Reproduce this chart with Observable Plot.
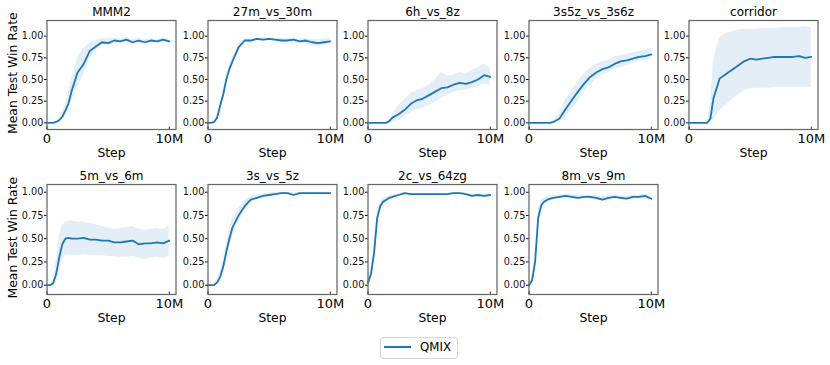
<!DOCTYPE html>
<html><head><meta charset="utf-8">
<script src="https://cdn.jsdelivr.net/npm/d3@7"></script>
<script src="https://cdn.jsdelivr.net/npm/@observablehq/plot@0.6"></script>
<style>
body{margin:0;background:#fff;font-family:"DejaVu Sans",sans-serif;}
#chart{position:relative;width:830px;height:365px;overflow:hidden;background:#fff;}
.panel{position:absolute;}
.legbox{position:absolute;left:380px;top:336.5px;width:78px;height:22.5px;border:1px solid #d6d6d6;border-radius:3px;box-sizing:border-box;background:#fff;}
.legline{position:absolute;left:384px;top:346.3px;width:27px;height:2px;background:#1f77b4;}
.legtext{position:absolute;left:420px;top:341.8px;font-size:11.8px;line-height:1;color:#000;font-family:"DejaVu Sans",sans-serif;}
</style></head><body><div id="chart"></div>
<script>
// ---- data ----
const steps = [0,0.25,0.5,0.75,1,1.25,1.5,1.75,2,2.5,3,3.5,4,4.5,5,5.5,6,6.5,7,7.5,8,8.5,9,9.5,10]; // millions
const panelNames = ["MMM2","27m_vs_30m","6h_vs_8z","3s5z_vs_3s6z","corridor","5m_vs_6m","3s_vs_5z","2c_vs_64zg","8m_vs_9m"];
const xTicks = [0, 10];
const xTickLabels = ["0", "10M"];
const yTicks = [0, 0.25, 0.5, 0.75, 1.0];
const seriesName = "QMIX";

const mmm2Mean = [0,0,0,0.01,0.03,0.07,0.14,0.22,0.36,0.58,0.68,0.83,0.88,0.93,0.92,0.95,0.94,0.96,0.93,0.95,0.93,0.95,0.94,0.96,0.94];
const mmm2Lo   = [0,0,0,0,0.01,0.03,0.08,0.14,0.25,0.42,0.55,0.74,0.83,0.9,0.89,0.92,0.92,0.93,0.91,0.92,0.91,0.93,0.92,0.93,0.92];
const mmm2Hi   = [0,0,0.01,0.02,0.06,0.12,0.22,0.33,0.5,0.75,0.86,0.92,0.95,0.97,0.97,0.98,0.97,0.99,0.96,0.98,0.96,0.97,0.96,0.98,0.96];

const m27Mean = [0,0,0.01,0.06,0.2,0.33,0.5,0.62,0.71,0.87,0.95,0.95,0.97,0.96,0.97,0.96,0.95,0.95,0.96,0.94,0.95,0.93,0.92,0.93,0.94];
const m27Lo   = [0,0,0,0.03,0.15,0.28,0.44,0.57,0.66,0.83,0.93,0.93,0.95,0.94,0.95,0.94,0.93,0.93,0.94,0.91,0.92,0.89,0.88,0.9,0.91];
const m27Hi   = [0,0.01,0.02,0.09,0.25,0.38,0.55,0.67,0.76,0.91,0.97,0.97,0.98,0.98,0.98,0.98,0.97,0.97,0.98,0.96,0.98,0.96,0.96,0.97,0.97];

const h6Mean = [0,0,0,0,0,0,0,0.02,0.06,0.1,0.15,0.22,0.26,0.28,0.32,0.36,0.4,0.41,0.44,0.46,0.45,0.47,0.5,0.55,0.53];
const h6Lo   = [0,0,0,0,0,0,0,0,0.01,0.03,0.07,0.12,0.15,0.17,0.2,0.24,0.28,0.32,0.35,0.37,0.37,0.4,0.42,0.45,0.43];
const h6Hi   = [0,0,0,0,0,0,0.01,0.04,0.1,0.2,0.27,0.34,0.37,0.4,0.44,0.5,0.58,0.54,0.55,0.58,0.56,0.6,0.64,0.68,0.63];

const s5zMean = [0,0,0,0,0,0,0,0,0.01,0.05,0.16,0.26,0.36,0.45,0.53,0.58,0.62,0.64,0.68,0.71,0.72,0.74,0.76,0.77,0.79];
const s5zLo   = [0,0,0,0,0,0,0,0,0,0.01,0.07,0.15,0.25,0.35,0.43,0.5,0.55,0.58,0.62,0.64,0.66,0.69,0.71,0.72,0.73];
const s5zHi   = [0,0,0,0,0,0,0,0,0.02,0.12,0.27,0.38,0.48,0.56,0.63,0.68,0.71,0.72,0.76,0.78,0.79,0.81,0.82,0.84,0.86];

const corMean = [0,0,0,0,0,0,0,0.05,0.28,0.51,0.56,0.61,0.66,0.71,0.74,0.73,0.74,0.75,0.76,0.76,0.76,0.76,0.77,0.75,0.76];
const corLo   = [0,0,0,0,0,0,0,0,0.03,0.14,0.2,0.26,0.32,0.37,0.39,0.4,0.4,0.4,0.41,0.41,0.41,0.41,0.41,0.41,0.41];
const corHi   = [0,0,0,0,0,0,0,0.2,0.72,0.98,1.03,1.05,1.07,1.08,1.08,1.08,1.09,1.09,1.09,1.1,1.1,1.1,1.1,1.11,1.1];

const m5Mean = [0,0,0.02,0.12,0.3,0.44,0.5,0.51,0.5,0.5,0.51,0.49,0.49,0.48,0.48,0.46,0.46,0.47,0.48,0.44,0.45,0.45,0.46,0.45,0.48];
const m5Lo   = [0,0,0,0.02,0.12,0.26,0.32,0.33,0.32,0.32,0.33,0.32,0.32,0.32,0.31,0.31,0.3,0.3,0.31,0.29,0.28,0.29,0.3,0.29,0.31];
const m5Hi   = [0,0,0.04,0.25,0.52,0.64,0.68,0.69,0.69,0.68,0.68,0.66,0.65,0.63,0.62,0.6,0.61,0.62,0.63,0.6,0.59,0.6,0.61,0.6,0.64];

const s3Mean = [0,0,0,0.03,0.09,0.2,0.36,0.5,0.62,0.75,0.85,0.92,0.94,0.96,0.97,0.98,0.99,0.99,0.97,0.99,0.99,0.99,0.99,0.99,0.99];
const s3Lo   = [0,0,0,0.01,0.05,0.14,0.28,0.41,0.53,0.68,0.8,0.89,0.92,0.95,0.96,0.97,0.98,0.98,0.96,0.98,0.98,0.98,0.98,0.98,0.98];
const s3Hi   = [0,0,0.01,0.06,0.15,0.28,0.45,0.6,0.72,0.83,0.91,0.96,0.97,0.98,0.99,1.0,1.0,1.0,0.99,1.0,1.0,1.0,1.0,1.0,1.0];

const c2Mean = [0.03,0.12,0.35,0.72,0.85,0.9,0.92,0.94,0.95,0.97,0.99,0.98,0.98,0.98,0.98,0.98,0.98,0.98,0.99,0.99,0.98,0.96,0.97,0.96,0.97];
const c2Lo   = [-0.03,0.06,0.27,0.65,0.8,0.86,0.89,0.91,0.93,0.96,0.98,0.97,0.97,0.97,0.97,0.97,0.97,0.97,0.98,0.98,0.97,0.94,0.96,0.94,0.95];
const c2Hi   = [0.1,0.2,0.44,0.79,0.9,0.94,0.95,0.96,0.97,0.98,1.0,0.99,0.99,0.99,0.99,0.99,0.99,0.99,1.0,1.0,0.99,0.98,0.98,0.98,0.99];

const m8Mean = [0,0.05,0.25,0.72,0.86,0.9,0.92,0.93,0.94,0.95,0.96,0.95,0.94,0.95,0.95,0.94,0.92,0.94,0.95,0.94,0.93,0.95,0.95,0.96,0.93];
const m8Lo   = [0,0.02,0.18,0.64,0.8,0.86,0.89,0.9,0.92,0.93,0.94,0.93,0.92,0.93,0.93,0.92,0.9,0.92,0.93,0.92,0.91,0.93,0.93,0.93,0.9];
const m8Hi   = [0.01,0.09,0.33,0.8,0.91,0.94,0.95,0.96,0.96,0.97,0.98,0.97,0.96,0.97,0.97,0.96,0.95,0.96,0.97,0.96,0.95,0.97,0.97,0.98,0.96];

const panelSeries = [
  [mmm2Mean, mmm2Lo, mmm2Hi],
  [m27Mean, m27Lo, m27Hi],
  [h6Mean, h6Lo, h6Hi],
  [s5zMean, s5zLo, s5zHi],
  [corMean, corLo, corHi],
  [m5Mean, m5Lo, m5Hi],
  [s3Mean, s3Lo, s3Hi],
  [c2Mean, c2Lo, c2Hi],
  [m8Mean, m8Lo, m8Hi]
];

// ---- layout ----
const rows = [
  {top: 20, h: 109, domain: [-0.077, 1.181]},
  {top: 183.5, h: 110, domain: [-0.1, 1.083]}
];
const left0 = 46.5, colStep = 160.5, frameW = 129;
const mL = 46.5, mR = 16, mT = 22, mB = 40;
const blue = "#1f77b4";
const font = "DejaVu Sans";

const chart = document.getElementById("chart");

panelNames.forEach((name, i) => {
  const row = i < 5 ? 0 : 1;
  const col = i < 5 ? i : i - 5;
  const R = rows[row];
  const [mean, lo, hi] = panelSeries[i];
  const data = steps.map((s, k) => ({step: s, mean: mean[k], lo: lo[k], hi: hi[k]}));
  const marks = [
    Plot.areaY(data, {x: "step", y1: "lo", y2: "hi", fill: blue, fillOpacity: 0.12}),
    Plot.lineY(data, {x: "step", y: "mean", stroke: blue, strokeWidth: 1.8}),
    Plot.frame({stroke: "#666", strokeWidth: 1.25}),
    Plot.axisY({ticks: yTicks, tickSize: 2.5, tickPadding: 1.2, fontSize: 9.7, tickFormat: d3.format(".2f"), label: null, color: "#111"}),
    Plot.axisX({ticks: xTicks, tickSize: 0, tickPadding: 4.5, fontSize: 13, tickFormat: d => xTickLabels[xTicks.indexOf(d)], label: null, color: "#000"}),
    Plot.tickX(xTicks, {x: d => d, insetTop: R.h - 2.5, stroke: "#333"}),
    Plot.text([name], {text: d => d, frameAnchor: "top", lineAnchor: "bottom", dy: -4.2, fontSize: 12, fill: "#000"}),
    Plot.text(["Step"], {text: d => d, frameAnchor: "bottom", dy: 27.5, fontSize: 12.4, fill: "#000"})
  ];
  if (col === 0) {
    marks.push(Plot.text(["Mean Test Win Rate"], {text: d => d, frameAnchor: "left", textAnchor: "middle", lineAnchor: "middle", rotate: -90, dx: -34.3, dy: -1.8, fontSize: 12.4, fill: "#000"}));
  }
  const W = mL + frameW + mR, H = mT + R.h + mB;
  const svg = Plot.plot({
    width: W, height: H,
    marginLeft: mL, marginRight: mR, marginTop: mT, marginBottom: mB,
    style: {background: "transparent", fontFamily: font, overflow: "visible", maxWidth: "none"},
    x: {domain: [0, 10.55]},
    y: {domain: R.domain},
    marks
  });
  const div = document.createElement("div");
  div.className = "panel";
  div.style.left = (left0 + col * colStep - mL) + "px";
  div.style.top = (R.top - mT) + "px";
  div.style.width = W + "px";
  div.style.height = H + "px";
  div.appendChild(svg);
  chart.appendChild(div);
});

// legend
const lb = document.createElement("div"); lb.className = "legbox"; chart.appendChild(lb);
const ll = document.createElement("div"); ll.className = "legline"; chart.appendChild(ll);
const lt = document.createElement("div"); lt.className = "legtext"; lt.textContent = seriesName; chart.appendChild(lt);
</script>
</body></html>
